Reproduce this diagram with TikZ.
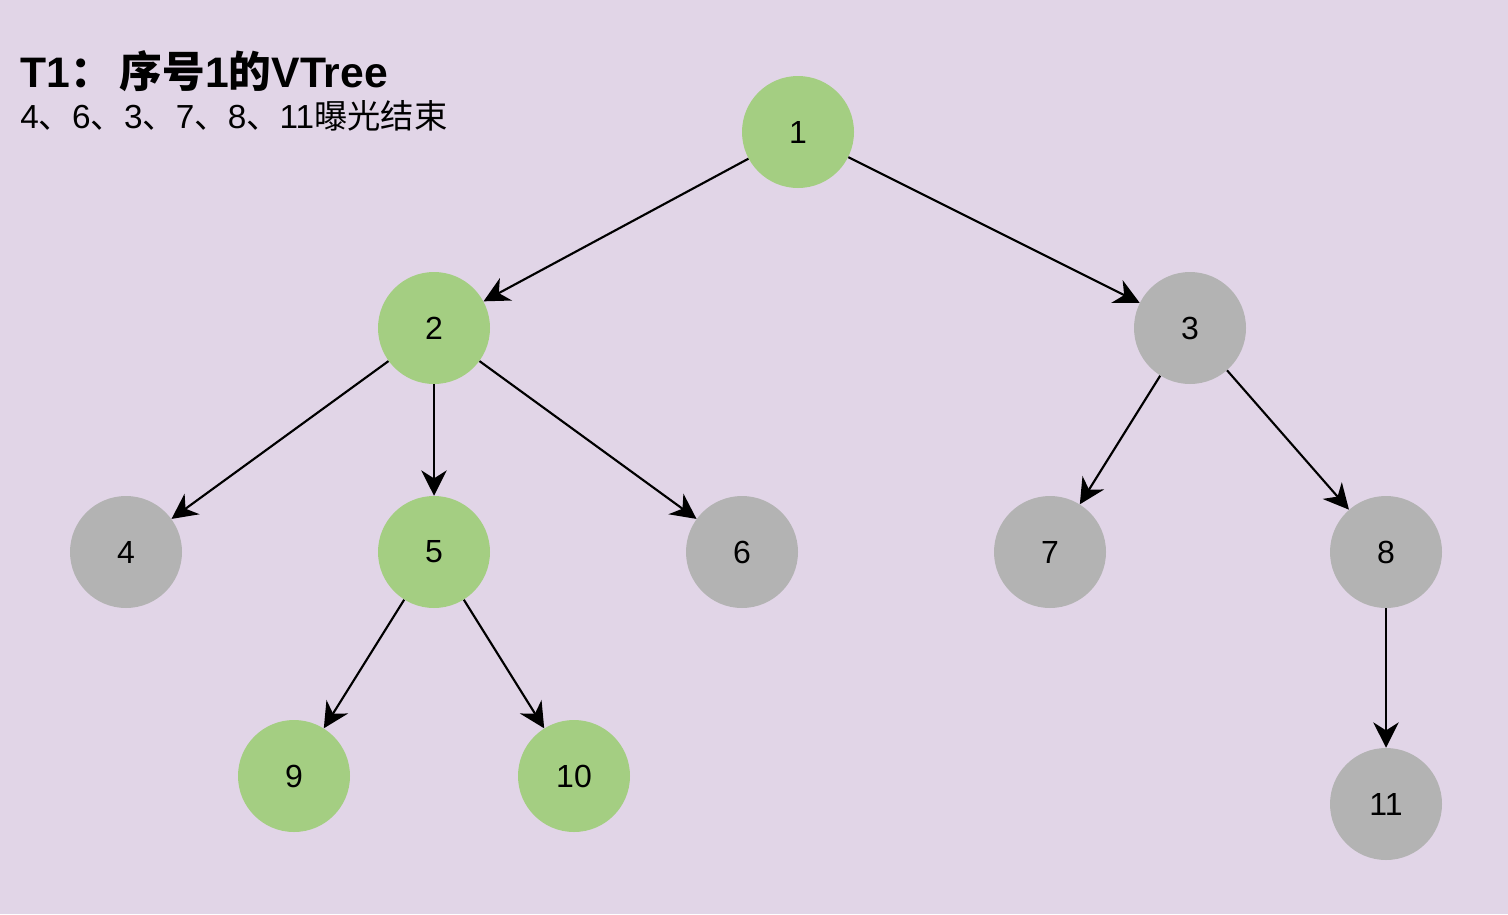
\documentclass[tikz,border=0pt]{standalone}
\usepackage{fontspec}
\setmainfont{Liberation Sans}
\newfontfamily\cjk{Noto Sans CJK SC}
\usetikzlibrary{arrows.meta}
\definecolor{bgpurple}{HTML}{E1D5E7}
\definecolor{livegreen}{HTML}{A4CE82}
\definecolor{donegrey}{HTML}{B3B3B3}
\begin{document}
\begin{tikzpicture}[x=0.75pt,y=0.75pt,yscale=-1,xscale=1,
  vnode/.style={circle,minimum size=84pt,inner sep=0pt,font=\fontsize{24}{28}\selectfont},
  live/.style={vnode,fill=livegreen},
  done/.style={vnode,fill=donegrey},
  link/.style={line width=1.6pt,-{Stealth[length=19pt,width=19pt,inset=6pt]}}]
%set diagram left start at 0, and has height of 914
\fill[bgpurple] (0,0) rectangle (1508,914);

% Text Node
\node (title) [anchor=base west,inner sep=0pt,font=\fontsize{32}{38}\selectfont\bfseries] at (20,87) {T1{\cjk ：\,序号}1{\cjk 的}VTree};
% Text Node
\node (note) [anchor=base west,inner sep=0pt,font=\fontsize{25}{30}\selectfont] at (20,128) {4{\cjk 、}6{\cjk 、}3{\cjk 、}7{\cjk 、}8{\cjk 、}11{\cjk 曝光结束}};

%Shape: Circle
\node (n1) [live] at (798,132) {1};
\node (n2) [live] at (434,328) {2};
\node (n3) [done] at (1190,328) {3};
\node (n4) [done] at (126,552) {4};
\node (n5) [live] at (434,552) {5};
\node (n6) [done] at (742,552) {6};
\node (n7) [done] at (1050,552) {7};
\node (n8) [done] at (1386,552) {8};
\node (n9) [live] at (294,776) {9};
\node (n10) [live] at (574,776) {10};
\node (n11) [done] at (1386,804) {11};

%Straight Lines
\draw [link] (n1) -- (n2);
\draw [link] (n1) -- (n3);
\draw [link] (n2) -- (n4);
\draw [link] (n2) -- (n5);
\draw [link] (n2) -- (n6);
\draw [link] (n3) -- (n7);
\draw [link] (n3) -- (n8);
\draw [link] (n5) -- (n9);
\draw [link] (n5) -- (n10);
\draw [link] (n8) -- (n11);

\end{tikzpicture}
\end{document}
